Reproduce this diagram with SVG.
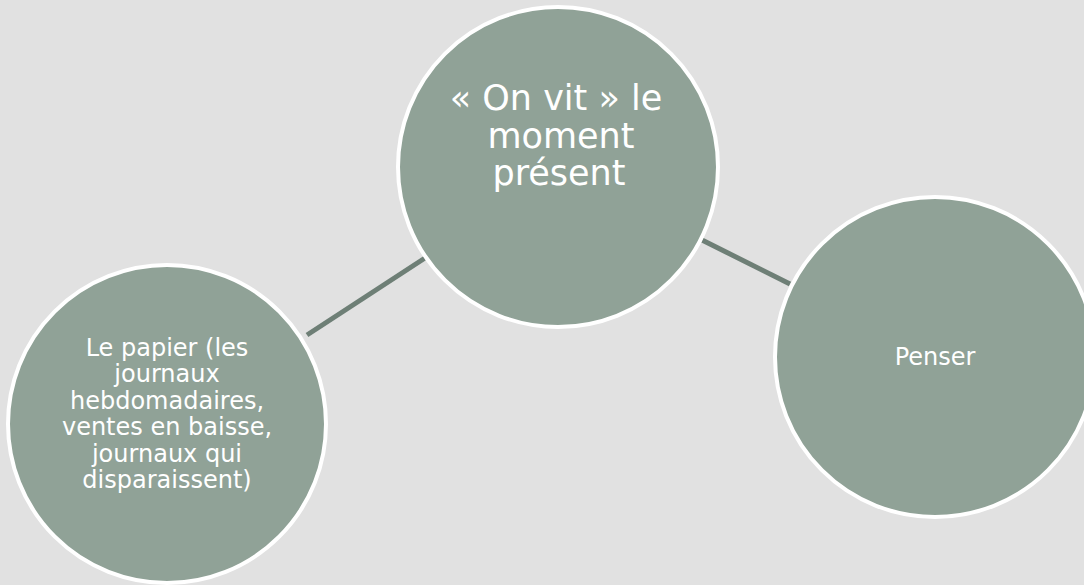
<svg xmlns="http://www.w3.org/2000/svg" width="1084" height="585" viewBox="0 0 1084 585">
<style>
.node{fill:#90a297;stroke:#ffffff;stroke-width:4}
.conn{stroke:#6e7f76;stroke-width:5;fill:none}
.t{font-family:"DejaVu Sans","Liberation Sans",sans-serif;fill:#ffffff;text-anchor:middle}
.big{font-size:35px}
.small{font-size:24px}
</style>
<rect x="0" y="0" width="1084" height="585" fill="#e1e1e1"/>
<g id="connectors">
<line class="conn" x1="307" y1="335" x2="425" y2="258"/>
<line class="conn" x1="702" y1="240" x2="790" y2="284"/>
</g>
<g id="node-top">
<circle class="node" cx="558" cy="167" r="160"/>
<text class="t big" x="556" y="110">« On vit » le</text>
<text class="t big" x="561" y="148">moment</text>
<text class="t big" x="559" y="185">présent</text>
</g>
<g id="node-left">
<circle class="node" cx="167" cy="424" r="159"/>
<text class="t small" x="167" y="356">Le papier (les</text>
<text class="t small" x="167" y="382">journaux</text>
<text class="t small" x="167" y="409">hebdomadaires,</text>
<text class="t small" x="167" y="435">ventes en baisse,</text>
<text class="t small" x="167" y="462">journaux qui</text>
<text class="t small" x="167" y="488">disparaissent)</text>
</g>
<g id="node-right">
<circle class="node" cx="935" cy="357" r="160"/>
<text class="t small" x="935" y="365">Penser</text>
</g>
</svg>
